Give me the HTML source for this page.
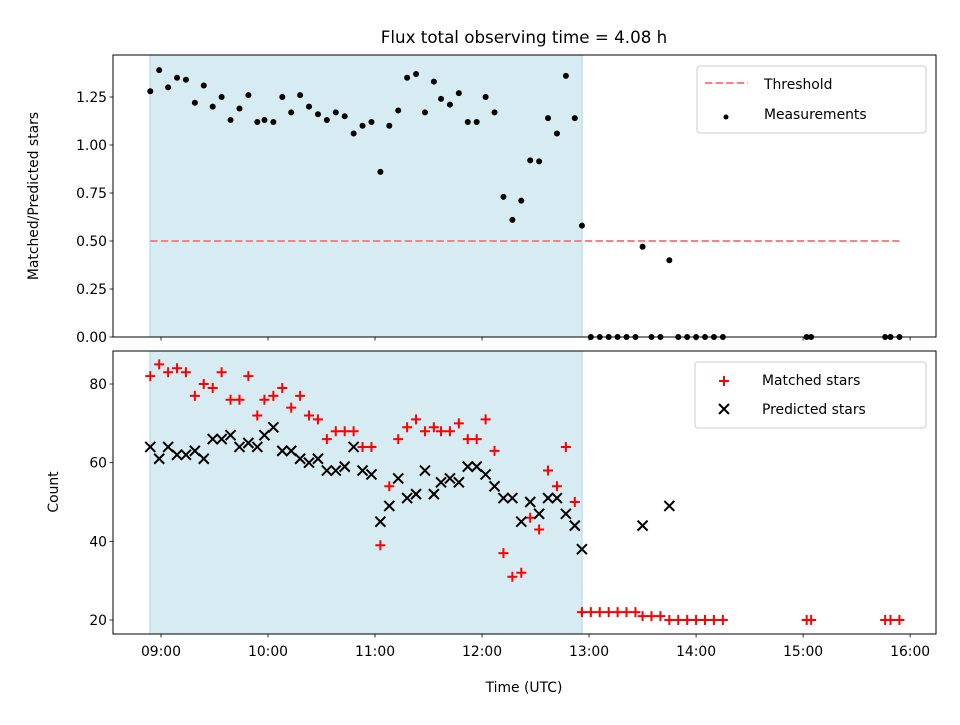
<!DOCTYPE html>
<html><head><meta charset="utf-8"><style>
body{margin:0;background:#fff;}
svg text{font-family:"DejaVu Sans","Liberation Sans",sans-serif;fill:#000;}
</style></head><body>
<svg id="fig" width="960" height="720" xmlns="http://www.w3.org/2000/svg">
<rect width="960" height="720" fill="#fff"/>
<text x="524" y="43" font-size="16.7" text-anchor="middle">Flux total observing time = 4.08 h</text>
<g id="topPanel"></g>
<g id="botPanel"></g>
<text x="524" y="692" font-size="13.9" text-anchor="middle">Time (UTC)</text>
<text transform="translate(38,196) rotate(-90)" font-size="13.9" text-anchor="middle">Matched/Predicted stars</text>
<text transform="translate(58,492) rotate(-90)" font-size="13.9" text-anchor="middle">Count</text>
</svg>
<script>
// times in minutes after 08:00 UTC
const times = [54,59,64,69,74,79,84,89,94,99,104,109,114,118,123,128,133,138,143,148,153,158,163,168,173,178,183,188,193,198,203,208,213,217,222,227,232,237,242,247,252,257,262,267,272,277,282,287,292,296,
301,306,311,316,321,326,330,335,340,345,350,355,360,365,370,375,422,424.5,466,469,474];
const ratios = [1.28,1.39,1.30,1.35,1.34,1.22,1.31,1.20,1.25,1.13,1.19,1.26,1.12,1.13,1.12,1.25,1.17,1.26,1.20,1.16,1.13,1.17,1.15,1.06,1.10,1.12,0.86,1.10,1.18,1.35,1.37,1.17,1.33,1.24,1.21,1.27,1.12,1.12,1.25,1.17,0.73,0.61,0.71,0.92,0.915,1.14,1.06,1.36,1.14,0.58,
0,0,0,0,0,0,0.47,0,0,0.40,0,0,0,0,0,0,0,0,0,0,0];
const matched = [82,85,83,84,83,77,80,79,83,76,76,82,72,76,77,79,74,77,72,71,66,68,68,68,64,64,39,54,66,69,71,68,69,68,68,70,66,66,71,63,37,31,32,46,43,58,54,64,50,22,
22,22,22,22,22,22,21,21,21,20,20,20,20,20,20,20,20,20,20,20,20];
const predicted = [64,61,64,62,62,63,61,66,66,67,64,65,64,67,69,63,63,61,60,61,58,58,59,64,58,57,45,49,56,51,52,58,52,55,56,55,59,59,57,54,51,51,45,50,47,51,51,47,44,38,
null,null,null,null,null,null,44,null,null,49,null,null,null,null,null,null,null,null,null,null,null];
const threshold = 0.5;
const xTickLabels = ["09:00","10:00","11:00","12:00","13:00","14:00","15:00","16:00"];
const xTickMinutes = [60,120,180,240,300,360,420,480];
const topTicks = [0,0.25,0.5,0.75,1.0,1.25];
const botTicks = [20,40,60,80];
const shadeStart = 53.8, shadeEnd = 296.1;

const NS="http://www.w3.org/2000/svg";
function mk(tag,attrs,parent){const e=document.createElementNS(NS,tag);for(const k in attrs)e.setAttribute(k,attrs[k]);parent.appendChild(e);return e;}
const L=113,R=936;
const xs=m=>L+(m-33.1)*(R-L)/(494.5-33.1);
const topP={t:55,b:337}, botP={t:351,b:634};
const yTop=v=>337-v*192;
const yBot=v=>620-(v-20)*3.933;

function panel(g,P,yf,ticks,fmt,showLabels){
  const s=mk('rect',{x:xs(shadeStart),y:P.t,width:xs(shadeEnd)-xs(shadeStart),height:P.b-P.t,fill:'#add8e6','fill-opacity':0.5,stroke:'#add8e6','stroke-width':1},g);
  
  
  ticks.forEach(t=>{
    const y=yf(t);
    const tk=mk('line',{x1:L-3.5,x2:L,y1:y,y2:y,stroke:'#000','stroke-width':0.8},g);
    
    
    const tl=mk('text',{x:L-6,y:y+5,'font-size':13.9,'text-anchor':'end'},g);
    tl.textContent=fmt(t);
    
    
  });
  xTickMinutes.forEach((m,i)=>{
    const x=xs(m);
    const tk=mk('line',{x1:x,x2:x,y1:P.b,y2:P.b+3.5,stroke:'#000','stroke-width':0.8},g);
    
    
    if(showLabels){
      const tl=mk('text',{x:x,y:P.b+22,'font-size':13.9,'text-anchor':'middle'},g);
      tl.textContent=xTickLabels[i];
      
      
    }
  });
}
const topG=document.getElementById('topPanel'), botG=document.getElementById('botPanel');
panel(topG,topP,yTop,topTicks,v=>v.toFixed(2),false);
panel(botG,botP,yBot,botTicks,v=>String(v),true);

const th=mk('line',{x1:xs(times[0]),x2:xs(times[times.length-1]),y1:yTop(threshold),y2:yTop(threshold),stroke:'#ff7f7f','stroke-width':2,'stroke-dasharray':'7.4,3.2'},topG);


times.forEach((m,i)=>{
  const c=mk('circle',{cx:xs(m),cy:yTop(ratios[i]),r:3,fill:'#000'},topG);
  
  
});
times.forEach((m,i)=>{
  const x=xs(m),y=yBot(matched[i]);
  const p=mk('path',{d:`M${x-5},${y}H${x+5}M${x},${y-5}V${y+5}`,stroke:'#f00','stroke-width':2},botG);
  
  
});
times.forEach((m,i)=>{
  if(predicted[i]==null)return;
  const x=xs(m),y=yBot(predicted[i]);
  const p=mk('path',{d:`M${x-5},${y-5}L${x+5},${y+5}M${x-5},${y+5}L${x+5},${y-5}`,stroke:'#000','stroke-width':2},botG);
  
  
});
[[topG,topP],[botG,botP]].forEach(([g,P])=>{
  const f=mk('rect',{x:L,y:P.t,width:R-L,height:P.b-P.t,fill:'none',stroke:'#000','stroke-width':1},g);
  
  
});
// legends
const lg1=mk('g',{},topG);


mk('rect',{x:697,y:66,width:229,height:67,rx:3,fill:'#fff','fill-opacity':0.8,stroke:'#ccc'},lg1);
mk('line',{x1:705,x2:748,y1:83,y2:83,stroke:'#ff7f7f','stroke-width':2,'stroke-dasharray':'7.4,3.2'},lg1);
let t=mk('text',{x:764,y:89,'font-size':13.9},lg1);t.textContent='Threshold';
mk('circle',{cx:726,cy:117,r:2.5,fill:'#000'},lg1);
t=mk('text',{x:764,y:119,'font-size':13.9},lg1);t.textContent='Measurements';
const lg2=mk('g',{},botG);


mk('rect',{x:695,y:362,width:231,height:66,rx:3,fill:'#fff','fill-opacity':0.8,stroke:'#ccc'},lg2);
mk('path',{d:'M719,381H729M724,376V386',stroke:'#f00','stroke-width':2},lg2);
t=mk('text',{x:762,y:385,'font-size':13.9},lg2);t.textContent='Matched stars';
mk('path',{d:'M719,404L729,414M719,414L729,404',stroke:'#000','stroke-width':2},lg2);
t=mk('text',{x:762,y:414,'font-size':13.9},lg2);t.textContent='Predicted stars';
</script>
</body></html>
